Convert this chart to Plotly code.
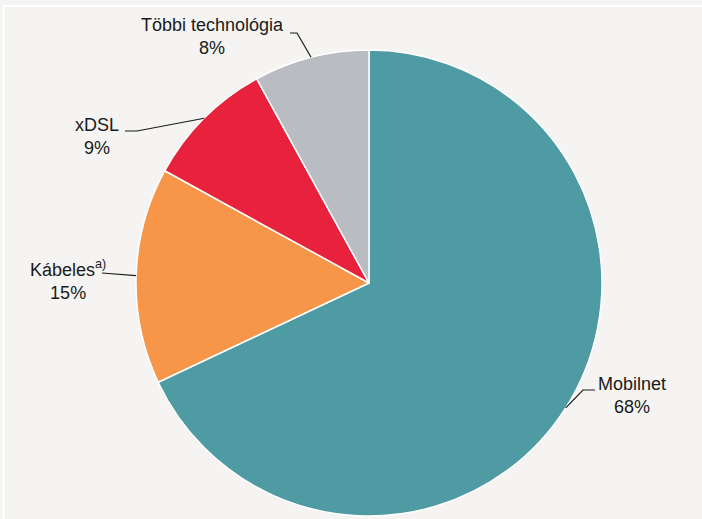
import math
import plotly.graph_objects as go

categories = ["Mobilnet", "Kábeles", "xDSL", "Többi technológia"]
values = [68, 15, 9, 8]
colors = ["#4e9ba4", "#f79548", "#e8213d", "#b9bdc1"]

W, H = 702, 519
cx, cy, R = 369, 283, 233  # pixel center/radius of pie

fig = go.Figure(go.Pie(
    labels=categories, values=values, sort=False, direction="clockwise",
    rotation=0, textinfo="none", hoverinfo="label+percent",
    marker=dict(colors=colors, line=dict(color="white", width=1.5)),
    domain=dict(x=[(cx - R) / W, (cx + R) / W], y=[(H - cy - R) / H, (H - cy + R) / H]),
    showlegend=False,
))

def px(x):
    return x / W

def py(y):
    return 1 - y / H

# slice mid-angle anchor points computed from data
total = sum(values)
anchors = []
cum = 0
for v in values:
    mid = (cum + v / 2) / total * 2 * math.pi
    anchors.append((cx + R * math.sin(mid), cy - R * math.cos(mid)))
    cum += v

# label layout: (text x, text y, elbow points)
label_cfg = {
    "Mobilnet": dict(tx=632, ty=395, elbow=[(583, 390), (595, 390)]),
    "Kábeles": dict(tx=68, ty=280, elbow=[(102, 273)]),
    "xDSL": dict(tx=97, ty=137, elbow=[(137, 131), (125, 131)]),
    "Többi technológia": dict(tx=213, ty=37, elbow=[(297, 33), (290, 33)]),
}

shapes = []
annotations = []
font = dict(family="Liberation Sans Narrow, Arial Narrow, Liberation Sans", size=18, color="#1a1a1a")
for cat, v, (ax, ay) in zip(categories, values, anchors):
    cfg = label_cfg[cat]
    pts = [(ax, ay)] + cfg["elbow"]
    path = "M " + " L ".join(f"{px(x):.5f},{py(y):.5f}" for x, y in pts)
    shapes.append(dict(type="path", xref="paper", yref="paper", path=path,
                       line=dict(color="#1a1a1a", width=1.2)))
    pct = round(v / total * 100)
    if cat == "Kábeles":
        text = f"Kábeles<sup>a)</sup><br>{pct}%"
    else:
        text = f"{cat}<br>{pct}%"
    annotations.append(dict(x=px(cfg["tx"]), y=py(cfg["ty"]), xref="paper", yref="paper",
                            text=text, showarrow=False, font=font, align="center",
                            xanchor="center", yanchor="middle"))

# white frame lines
shapes.append(dict(type="line", xref="paper", yref="paper", x0=px(3.5), x1=1.0,
                   y0=py(6), y1=py(6), line=dict(color="white", width=2)))
shapes.append(dict(type="line", xref="paper", yref="paper", x0=px(3.5), x1=px(3.5),
                   y0=py(6), y1=0, line=dict(color="white", width=2)))

fig.update_layout(
    width=W, height=H, margin=dict(l=0, r=0, t=0, b=0),
    paper_bgcolor="#f5f4f2", plot_bgcolor="#f5f4f2",
    shapes=shapes, annotations=annotations,
)

fig.write_html(
    "out.html",
    config={"displayModeBar": False},
    post_script="document.body.style.margin='0';document.body.style.padding='0';"
                "document.body.style.background='#f5f4f2';",
)
